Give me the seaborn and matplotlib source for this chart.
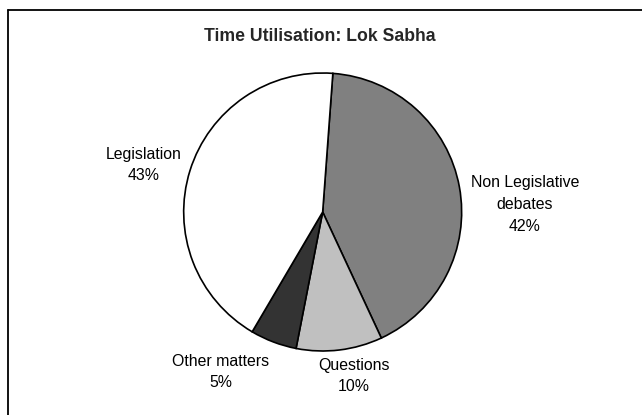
import matplotlib
matplotlib.use("Agg")
import matplotlib.pyplot as plt
import seaborn as sns
from matplotlib.lines import Line2D

# data (clockwise from top)
categories = ["Non Legislative\ndebates", "Questions", "Other matters", "Legislation"]
shares = [41.9, 10.0, 5.4, 42.7]
shown_pct = ["42%", "10%", "5%", "43%"]
slice_colors = ["#808080", "#c0c0c0", "#333333", "#ffffff"]

# label placement (pie units, radius = 1)
label_pos = [(1.455, 0.054), (0.225, -1.18), (-0.732, -1.151), (-1.286, 0.338)]

sns.set_theme(style="white")
plt.rcParams["font.family"] = ["Liberation Sans", "DejaVu Sans"]

fig = plt.figure(figsize=(6.42, 4.15), dpi=100)
fig.patch.set_facecolor("white")
ax = fig.add_axes([0.2861, 0.1542, 0.4330, 0.6699])

ax.pie(shares, colors=slice_colors, startangle=85.8, counterclock=False,
       wedgeprops=dict(edgecolor="black", linewidth=1.2, clip_on=False))
ax.set_xlim(-1, 1)
ax.set_ylim(-1, 1)
ax.axis("off")

for name, pct, (lx, ly) in zip(categories, shown_pct, label_pos):
    ax.text(lx, ly, f"{name}\n{pct}", ha="center", va="center",
            multialignment="center", fontsize=11.4, linespacing=1.55,
            color="black", clip_on=False)

fig.text(319.7 / 642, 1 - 36.5 / 415, "Time Utilisation: Lok Sabha",
         ha="center", va="center", fontsize=12.7, fontweight="bold")

# chart-area border (right and bottom edges fall outside the image)
fig.add_artist(Line2D([8 / 642, 8 / 642], [0, 1 - 10 / 415], color="black", lw=1.3))
fig.add_artist(Line2D([8 / 642, 1], [1 - 10 / 415, 1 - 10 / 415], color="black", lw=1.3))

fig.savefig("out.png", dpi=100, facecolor="white")
